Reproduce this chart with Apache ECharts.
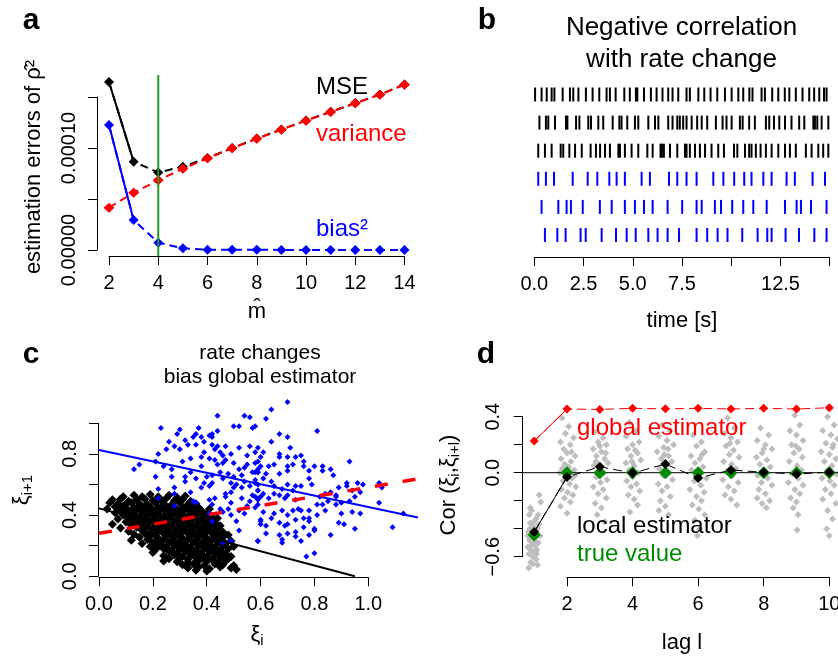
<!DOCTYPE html>
<html><head><meta charset="utf-8">
<script src="https://cdn.jsdelivr.net/npm/echarts@6/dist/echarts.min.js"></script>
<style>html,body{margin:0;padding:0;background:#fff}#c{width:838px;height:657px}</style>
</head><body><div id="c"></div><script>
// ---------- Panel a ----------
const mHat = [2,3,4,5,6,7,8,9,10,11,12,13,14];
const mseVals = [1.647e-4, 8.66e-5, 7.6e-5, 8.17e-5, 9.02e-5, 1.0e-4, 1.093e-4, 1.182e-4, 1.27e-4, 1.355e-4, 1.44e-4, 1.525e-4, 1.623e-4];
const varianceVals = [4.15e-5, 5.62e-5, 6.83e-5, 7.97e-5, 8.99e-5, 9.97e-5, 1.091e-4, 1.18e-4, 1.268e-4, 1.353e-4, 1.438e-4, 1.523e-4, 1.621e-4];
const bias2Vals = [1.225e-4, 2.94e-5, 7.2e-6, 1.7e-6, 3e-7, 2e-7, 2e-7, 1e-7, 1e-7, 1e-7, 1e-7, 1e-7, 1e-7];
const mChosen = 4;
const aPlotYRange = [-5.9e-6, 1.716e-4];
const aXTicks = [2,4,6,8,10,12,14];
const aXLabels = ['2','4','6','8','10','12','14'];
const aYTicks = [0, 0.00005, 0.0001, 0.00015];
const aYLabels = ['0.00000','','0.00010',''];

// ---------- Panel b (spike times, s) ----------
const spikeRow1 = [0.04,0.37,0.63,0.88,1.02,1.44,1.81,1.98,2.24,2.62,2.96,3.30,3.67,3.84,4.13,4.57,4.85,5.16,5.23,5.57,5.92,6.21,6.51,6.80,7.02,7.31,7.73,7.90,8.33,8.63,8.95,9.29,9.68,10.02,10.36,10.61,10.92,11.08,11.54,11.71,12.08,12.39,12.72,12.95,13.28,13.62,13.96,14.21,14.47,14.71,14.84];
const spikeRow2 = [0.26,0.59,0.71,1.05,1.61,1.68,2.12,2.29,2.74,2.88,3.25,3.50,3.98,4.32,4.43,4.72,5.11,5.28,5.79,6.13,6.30,6.80,7.02,7.26,7.39,7.56,7.73,7.99,8.27,8.50,8.78,9.22,9.56,9.76,10.02,10.44,10.58,10.91,11.20,11.76,11.93,12.17,12.44,12.73,13.06,13.45,13.71,14.17,14.25,14.37,14.59,14.93];
const spikeRow3 = [0.20,0.54,0.88,1.34,1.47,1.78,2.07,2.41,2.86,3.13,3.34,3.59,3.84,4.27,4.35,4.60,4.94,5.28,5.74,6.01,6.41,6.48,6.58,6.89,7.26,7.65,7.73,7.90,8.16,8.41,8.67,9.00,9.34,9.63,10.14,10.31,10.70,10.91,11.03,11.25,11.49,11.76,12.05,12.39,12.73,12.98,13.28,13.79,14.08,14.42,14.67,14.93];
const spikeRow4 = [0.20,0.59,1.00,1.95,2.71,3.20,3.81,4.18,4.60,5.45,5.87,6.84,7.26,7.73,8.24,9.09,9.60,10.15,10.66,11.03,11.63,12.05,12.81,13.23,14.13,14.76];
const spikeRow5 = [0.37,1.22,1.64,1.86,2.46,3.33,3.93,4.60,5.11,5.57,6.01,6.77,7.51,8.24,8.50,9.17,9.48,10.05,10.61,11.12,11.80,12.73,13.32,13.54,14.05,14.84];
const spikeRow6 = [0.54,1.17,1.59,2.35,2.61,3.42,4.15,4.69,5.15,5.79,6.26,6.77,7.35,8.24,8.78,9.31,9.81,10.56,11.34,11.83,12.05,12.76,13.44,14.22,14.84];
const bXTicks = [0,2.5,5,7.5,10,12.5,15];
const bXLabels = ['0.0','2.5','5.0','7.5','','12.5',''];

// ---------- Panel c (xi_i, xi_i+1) ----------
const blackPairs = [
[0.09,0.52],[0.13,0.53],[0.16,0.52],[0.19,0.535],[0.22,0.52],[0.26,0.53],[0.29,0.515],[0.32,0.525],
[0.05,0.50],[0.08,0.505],[0.11,0.49],[0.14,0.50],[0.17,0.505],[0.20,0.495],[0.23,0.50],[0.25,0.51],[0.28,0.495],[0.31,0.50],[0.34,0.49],
[0.04,0.48],[0.07,0.475],[0.10,0.47],[0.12,0.48],[0.15,0.475],[0.18,0.47],[0.21,0.48],[0.24,0.475],[0.27,0.47],[0.30,0.48],[0.33,0.47],[0.36,0.475],
[0.06,0.455],[0.09,0.46],[0.13,0.45],[0.16,0.46],[0.19,0.455],[0.22,0.45],[0.25,0.46],[0.28,0.455],[0.31,0.45],[0.34,0.46],[0.37,0.45],
[0.03,0.44],[0.08,0.435],[0.11,0.43],[0.14,0.44],[0.17,0.435],[0.20,0.43],[0.23,0.44],[0.26,0.435],[0.29,0.43],[0.32,0.44],[0.35,0.435],[0.38,0.43],[0.41,0.44],
[0.06,0.415],[0.10,0.42],[0.13,0.41],[0.16,0.42],[0.19,0.415],[0.22,0.41],[0.25,0.42],[0.28,0.415],[0.31,0.41],[0.34,0.42],[0.37,0.415],[0.40,0.41],
[0.09,0.40],[0.12,0.395],[0.15,0.39],[0.18,0.40],[0.21,0.395],[0.24,0.39],[0.27,0.40],[0.30,0.395],[0.33,0.39],[0.36,0.40],[0.39,0.395],[0.42,0.39],
[0.07,0.375],[0.11,0.38],[0.14,0.37],[0.17,0.38],[0.20,0.375],[0.23,0.37],[0.26,0.38],[0.29,0.375],[0.32,0.37],[0.35,0.38],[0.38,0.375],[0.41,0.37],[0.44,0.38],
[0.10,0.355],[0.13,0.36],[0.16,0.35],[0.19,0.36],[0.22,0.355],[0.25,0.35],[0.28,0.36],[0.31,0.355],[0.34,0.35],[0.37,0.36],[0.40,0.355],[0.43,0.35],
[0.05,0.34],[0.12,0.335],[0.15,0.34],[0.18,0.33],[0.21,0.34],[0.24,0.335],[0.27,0.33],[0.30,0.34],[0.33,0.335],[0.36,0.33],[0.39,0.34],[0.42,0.335],[0.45,0.33],
[0.08,0.315],[0.14,0.32],[0.17,0.315],[0.20,0.31],[0.23,0.32],[0.26,0.315],[0.29,0.31],[0.32,0.32],[0.35,0.315],[0.38,0.31],[0.41,0.32],[0.44,0.315],
[0.11,0.295],[0.16,0.30],[0.19,0.29],[0.22,0.30],[0.25,0.295],[0.28,0.29],[0.31,0.30],[0.34,0.295],[0.37,0.29],[0.40,0.30],[0.43,0.295],[0.46,0.29],
[0.13,0.275],[0.17,0.28],[0.21,0.27],[0.24,0.28],[0.27,0.275],[0.30,0.27],[0.33,0.28],[0.36,0.275],[0.39,0.27],[0.42,0.28],[0.45,0.275],[0.48,0.27],
[0.15,0.255],[0.19,0.26],[0.22,0.25],[0.25,0.26],[0.28,0.255],[0.31,0.25],[0.34,0.26],[0.37,0.255],[0.40,0.25],[0.43,0.26],[0.46,0.255],
[0.12,0.235],[0.18,0.24],[0.21,0.23],[0.24,0.24],[0.27,0.235],[0.30,0.23],[0.33,0.24],[0.36,0.235],[0.39,0.23],[0.42,0.24],[0.45,0.235],[0.49,0.23],
[0.16,0.215],[0.20,0.22],[0.23,0.21],[0.26,0.22],[0.29,0.215],[0.32,0.21],[0.35,0.22],[0.38,0.215],[0.41,0.21],[0.44,0.22],[0.47,0.215],
[0.19,0.195],[0.22,0.20],[0.25,0.19],[0.28,0.20],[0.31,0.195],[0.34,0.19],[0.37,0.20],[0.40,0.195],[0.43,0.19],[0.46,0.20],[0.50,0.195],
[0.21,0.175],[0.24,0.18],[0.27,0.17],[0.30,0.18],[0.33,0.175],[0.36,0.17],[0.39,0.18],[0.42,0.175],[0.45,0.17],[0.48,0.18],
[0.20,0.155],[0.26,0.16],[0.29,0.15],[0.32,0.16],[0.35,0.155],[0.38,0.15],[0.41,0.16],[0.44,0.155],[0.47,0.15],
[0.24,0.135],[0.28,0.14],[0.31,0.13],[0.34,0.14],[0.37,0.135],[0.40,0.13],[0.43,0.14],[0.46,0.135],[0.49,0.13],
[0.26,0.115],[0.30,0.12],[0.33,0.11],[0.36,0.12],[0.39,0.115],[0.42,0.11],[0.45,0.12],[0.48,0.115],
[0.24,0.10],[0.29,0.095],[0.33,0.09],[0.37,0.10],[0.40,0.095],[0.44,0.09],[0.47,0.10],
[0.31,0.075],[0.35,0.08],[0.39,0.07],[0.43,0.08],[0.46,0.075],[0.50,0.07],
[0.33,0.055],[0.37,0.06],[0.41,0.05],[0.45,0.06],[0.49,0.055],
[0.36,0.04],[0.40,0.035],[0.51,0.045]
];
const bluePairs = [
[0.44,1.05],[0.54,1.05],[0.56,1.04],[0.23,0.97],[0.30,0.96],[0.29,0.93],[0.37,0.97],[0.36,0.93],[0.38,0.91],[0.41,0.92],[0.42,0.93],[0.42,0.91],[0.44,0.95],[0.50,0.98],[0.52,0.98],[0.57,0.97],
[0.26,0.88],[0.28,0.85],[0.32,0.89],[0.35,0.91],[0.33,0.86],[0.36,0.86],[0.39,0.88],[0.42,0.86],[0.44,0.85],[0.47,0.85],[0.52,0.84],[0.56,0.85],[0.25,0.83],[0.22,0.80],[0.30,0.83],[0.39,0.81],[0.43,0.83],[0.45,0.81],[0.46,0.79],[0.49,0.80],[0.55,0.79],[0.58,0.81],
[0.13,0.70],[0.15,0.73],[0.21,0.75],[0.24,0.72],[0.27,0.70],[0.31,0.75],[0.34,0.77],[0.38,0.78],[0.41,0.77],[0.43,0.76],[0.44,0.73],[0.46,0.74],[0.47,0.76],[0.50,0.74],[0.52,0.70],[0.54,0.71],[0.55,0.73],[0.58,0.74],[0.59,0.68],
[0.21,0.65],[0.27,0.65],[0.32,0.65],[0.34,0.68],[0.38,0.72],[0.40,0.65],[0.42,0.66],[0.45,0.68],[0.48,0.67],[0.50,0.65],[0.53,0.66],[0.57,0.68],[0.59,0.70],
[0.32,0.62],[0.36,0.64],[0.39,0.61],[0.42,0.61],[0.46,0.64],[0.49,0.61],[0.51,0.60],[0.54,0.62],[0.58,0.63],
[0.22,0.57],[0.28,0.58],[0.34,0.55],[0.38,0.58],[0.41,0.59],[0.47,0.54],[0.49,0.55],[0.50,0.58],[0.53,0.58],[0.56,0.59],[0.59,0.60],
[0.22,0.51],[0.28,0.54],[0.35,0.49],[0.41,0.50],[0.43,0.51],[0.47,0.52],[0.49,0.48],[0.53,0.51],[0.57,0.53],[0.59,0.56],
[0.28,0.46],[0.36,0.48],[0.42,0.47],[0.45,0.44],[0.48,0.44],[0.52,0.43],[0.55,0.46],[0.59,0.51],[0.41,0.41],[0.46,0.42],[0.49,0.40],[0.54,0.41],[0.60,0.36],[0.42,0.36],[0.51,0.36],[0.52,0.30],[0.49,0.23],[0.46,0.22],[0.59,0.23],[0.56,0.49],[0.58,0.52],
[0.70,1.14],[0.64,1.09],[0.62,1.03],[0.58,0.98],[0.67,0.93],[0.70,0.91],[0.64,0.88],[0.81,0.95],[0.59,0.84],[0.61,0.81],[0.60,0.78],[0.67,0.80],[0.67,0.78],[0.70,0.78],[0.71,0.84],[0.73,0.78],[0.75,0.79],[0.76,0.75],
[0.59,0.75],[0.60,0.72],[0.63,0.72],[0.65,0.73],[0.70,0.72],[0.72,0.73],[0.76,0.72],[0.80,0.72],[0.83,0.72],[0.86,0.70],[0.93,0.75],
[0.58,0.68],[0.59,0.68],[0.62,0.67],[0.67,0.67],[0.70,0.69],[0.78,0.69],[0.83,0.69],[0.87,0.66],[0.61,0.64],[0.64,0.62],[0.70,0.60],[0.73,0.59],[0.75,0.59],[0.78,0.64],[0.79,0.60],
[0.58,0.61],[0.65,0.59],[0.68,0.57],[0.72,0.56],[0.59,0.56],[0.65,0.54],[0.67,0.53],[0.70,0.53],[0.60,0.52],[0.61,0.54],[0.84,0.54],[0.86,0.55],[0.88,0.53],[0.89,0.58],[0.92,0.61],[0.92,0.59],[0.96,0.61],[0.98,0.60],[0.94,0.56],[0.97,0.55],[1.04,0.61],[1.05,0.58],
[0.82,0.52],[0.85,0.49],[0.88,0.52],[0.90,0.48],[0.93,0.49],[0.95,0.52],[0.59,0.50],[0.59,0.47],[0.63,0.51],[0.69,0.51],[0.73,0.50],
[0.58,0.45],[0.61,0.42],[0.65,0.41],[0.68,0.43],[0.72,0.43],[0.74,0.44],[0.75,0.43],[0.78,0.43],[0.81,0.47],[0.83,0.47],[0.84,0.43],[0.88,0.47],[0.90,0.41],[0.94,0.42],[0.97,0.41],[1.04,0.48],[1.13,0.41],
[0.60,0.37],[0.64,0.38],[0.70,0.40],[0.73,0.37],[0.76,0.38],[0.78,0.38],[0.81,0.40],[0.60,0.34],[0.62,0.33],[0.67,0.35],[0.69,0.33],[0.70,0.34],[0.78,0.36],[0.76,0.32],[0.80,0.31],[0.89,0.35],[0.91,0.34],[0.95,0.31],[1.09,0.32],
[0.62,0.28],[0.67,0.27],[0.70,0.28],[0.73,0.29],[0.73,0.26],[0.78,0.27],[0.80,0.30],[0.86,0.27],[0.59,0.23],[0.68,0.22],[0.68,0.24],[0.75,0.23],[0.77,0.13],[0.80,0.15]
];
const blueFit = [[0, 0.826], [1.184, 0.384]];
const blackFit = [[0, 0.444], [0.95, 0]];
const globalFit = [[0, 0.281], [1.184, 0.637]];
const cXTicks = [0,0.2,0.4,0.6,0.8,1.0];
const cXLabels = ['0.0','0.2','0.4','0.6','0.8','1.0'];
const cYTicks = [0,0.2,0.4,0.6,0.8,1.0];
const cYLabels = ['0.0','','0.4','','0.8',''];

// ---------- Panel d (lag correlations) ----------
const lags = [1,2,3,4,5,6,7,8,9,10];
const globalEst = [0.226, 0.455, 0.452, 0.46, 0.456, 0.46, 0.455, 0.46, 0.455, 0.464];
const localEst = [-0.424, -0.031, 0.043, -0.003, 0.062, -0.038, 0.019, 0.003, -0.01, 0.004];
const trueVal = [-0.445, 0, 0, 0, 0, 0, 0, 0, 0, 0];
const zeroLine = [[0.64, 0], [10.4, 0]];
const greyPairs = [
[0.85,-0.30],[0.92,-0.27],[1.05,-0.33],[1.15,-0.16],[0.88,-0.36],[0.97,-0.38],[1.10,-0.40],[0.82,-0.42],[0.95,-0.44],[1.05,-0.46],[1.18,-0.45],[0.86,-0.48],[0.93,-0.50],[1.02,-0.52],[1.12,-0.50],[0.80,-0.53],[0.90,-0.55],[1.00,-0.57],[1.08,-0.55],[0.84,-0.58],[0.96,-0.60],[1.06,-0.62],[0.89,-0.64],[1.10,-0.66],[0.83,-0.68],[0.99,-0.35],[1.12,-0.30],[0.87,-0.40],[1.04,-0.41],[0.94,-0.47],[1.14,-0.37],[0.81,-0.45],[1.01,-0.49],[0.91,-0.52],[1.07,-0.58],[0.95,-0.65],[1.20,-0.21],[0.88,-0.25],
[1.85,0.39],[2.05,0.33],[1.95,0.28],[2.20,0.25],[1.80,0.22],[2.10,0.20],[1.90,0.17],[2.00,0.14],[2.25,0.12],[1.82,0.10],[2.12,0.08],[1.93,0.06],[2.05,0.04],[2.22,0.02],[1.78,0.00],[1.98,-0.02],[2.15,-0.04],[1.88,-0.06],[2.08,-0.08],[2.27,-0.10],[1.83,-0.12],[2.02,-0.14],[2.18,-0.16],[1.92,-0.18],[2.10,-0.21],[1.80,-0.24],[2.00,-0.29],[2.14,0.15],[1.86,0.03],[2.24,-0.02],
[2.85,0.29],[3.10,0.25],[2.95,0.22],[3.20,0.20],[2.80,0.17],[3.05,0.15],[2.90,0.12],[3.15,0.10],[3.25,0.07],[2.82,0.05],[3.00,0.03],[3.12,0.00],[2.90,-0.03],[3.22,-0.05],[3.02,-0.07],[2.80,-0.10],[3.10,-0.12],[2.95,-0.15],[3.20,-0.18],[2.86,-0.22],[3.05,-0.25],[2.92,-0.30],[3.15,-0.35],[3.00,0.19],[3.18,0.14],[2.88,0.08],
[3.90,0.36],[4.10,0.30],[3.80,0.26],[4.20,0.22],[4.00,0.20],[3.85,0.17],[4.15,0.14],[3.95,0.12],[4.25,0.09],[3.80,0.07],[4.05,0.05],[3.90,0.02],[4.18,0.00],[4.00,-0.03],[3.82,-0.06],[4.12,-0.08],[3.95,-0.10],[4.22,-0.13],[3.87,-0.16],[4.05,-0.19],[4.15,-0.23],[3.92,-0.28],[4.08,0.16],[3.98,0.08],
[4.90,0.34],[5.15,0.30],[4.80,0.26],[5.05,0.23],[5.25,0.20],[4.95,0.18],[4.75,0.15],[5.10,0.12],[4.88,0.10],[5.20,0.08],[5.00,0.05],[4.82,0.03],[5.12,0.00],[4.93,-0.02],[5.22,-0.05],[4.78,-0.08],[5.05,-0.10],[4.90,-0.13],[5.15,-0.17],[4.85,-0.20],[5.00,-0.24],[4.80,-0.27],[5.10,-0.30],[5.08,0.17],[4.97,0.13],
[5.85,0.27],[6.10,0.22],[5.95,0.19],[6.20,0.15],[5.78,0.12],[6.05,0.10],[5.90,0.07],[6.15,0.04],[5.80,0.02],[6.00,-0.01],[6.25,-0.04],[5.88,-0.06],[6.08,-0.09],[5.75,-0.12],[6.18,-0.14],[5.95,-0.17],[6.10,-0.20],[5.82,-0.23],[6.02,-0.26],[6.20,-0.30],[5.90,-0.34],[6.05,-0.40],[5.98,-0.45],[6.12,0.13],
[6.90,0.39],[7.10,0.32],[6.80,0.28],[7.00,0.25],[7.20,0.22],[6.85,0.19],[7.08,0.16],[6.95,0.13],[7.25,0.11],[6.78,0.08],[7.02,0.06],[7.15,0.03],[6.88,0.01],[7.05,-0.02],[6.75,-0.05],[7.22,-0.07],[6.92,-0.10],[7.10,-0.13],[6.82,-0.16],[7.00,-0.19],[7.18,-0.23],[6.97,0.21],
[7.90,0.32],[8.15,0.27],[7.80,0.23],[8.05,0.20],[8.25,0.17],[7.95,0.14],[7.78,0.11],[8.10,0.09],[7.88,0.06],[8.20,0.04],[8.00,0.01],[7.82,-0.02],[8.12,-0.04],[7.93,-0.07],[8.25,-0.09],[7.85,-0.12],[8.05,-0.15],[7.80,-0.18],[8.18,-0.20],[7.95,-0.22],[8.08,-0.25],[8.00,0.17],
[8.95,0.41],[9.10,0.34],[8.80,0.30],[9.00,0.27],[9.20,0.23],[8.85,0.20],[9.08,0.17],[8.92,0.14],[9.18,0.11],[8.78,0.08],[9.02,0.05],[9.15,0.02],[8.88,-0.01],[9.05,-0.04],[8.75,-0.07],[9.20,-0.09],[8.95,-0.12],[9.10,-0.15],[8.82,-0.18],[9.00,-0.21],[8.90,-0.25],[9.05,-0.30],[9.02,-0.41],[8.98,0.19],
[9.95,0.40],[10.15,0.34],[9.80,0.30],[10.05,0.27],[10.25,0.24],[9.90,0.21],[10.10,0.18],[9.75,0.15],[10.00,0.13],[10.20,0.10],[9.85,0.08],[10.08,0.05],[9.95,0.02],[10.22,-0.01],[9.78,-0.04],[10.02,-0.06],[10.15,-0.09],[9.88,-0.12],[10.05,-0.15],[9.80,-0.19],[10.20,-0.22],[9.95,-0.27],[10.10,-0.33],[9.92,-0.40],[10.00,-0.45],[10.12,0.20]
];
const dXTicks = [2,4,6,8,10];
const dXLabels = ['2','4','6','8','10'];
const dYTicks = [-0.6,-0.4,-0.2,0,0.2,0.4];
const dYLabels = ['\u22120.6','','','0.0','','0.4'];

// ---------- build ----------
const FONT = '"Liberation Sans", Arial, Helvetica, sans-serif';
const RED = '#ff0000', BLUE = '#0000ff', GREEN = '#008b00', GREY = '#bebebe';
const lab = (ticks, labels) => v => { for (let i = 0; i < ticks.length; i++) if (Math.abs(ticks[i] - v) < 1e-9) return labels[i]; return ''; };
const pairs = (xs, ys) => xs.map((x, i) => [x, ys[i]]);

function valAxis(kind, grid, min, max, interval, offset, ticks, labels, margin) {
  return {
    type: 'value', gridIndex: grid, min, max, interval, offset,
    position: kind === 'x' ? 'bottom' : 'left',
    axisLine: { show: true, onZero: false, lineStyle: { color: '#000', width: 1 } },
    axisTick: { show: true, inside: false, length: 9, lineStyle: { color: '#000', width: 1 } },
    axisLabel: { show: true, margin, color: '#000', fontSize: 20, fontFamily: FONT,
      showMinLabel: true, showMaxLabel: true, hideOverlap: false,
      rotate: kind === 'y' ? 90 : 0, formatter: lab(ticks, labels) },
    splitLine: { show: false }
  };
}
function hiddenAxis(grid, min, max, inverse) {
  return { type: 'value', gridIndex: grid, min, max, inverse: !!inverse, show: false,
    axisLine: { show: false }, axisTick: { show: false }, axisLabel: { show: false }, splitLine: { show: false } };
}
const base = { clip: false, animation: false, silent: true, emphasis: { disabled: true } };
function line(ax, data, color, width, type, extra) {
  return Object.assign({ type: 'line', xAxisIndex: ax, yAxisIndex: ax, data, symbol: 'none',
    lineStyle: { color, width, type }, z: 3 }, base, extra || {});
}
function scat(ax, data, color, size, extra) {
  return Object.assign({ type: 'scatter', xAxisIndex: ax, yAxisIndex: ax, data, symbol: 'diamond',
    symbolSize: size, itemStyle: { color, opacity: 1, borderWidth: 0 } }, base, extra || {});
}

const aMSE = pairs(mHat, mseVals), aVar = pairs(mHat, varianceVals), aBias = pairs(mHat, bias2Vals);
const dGlobal = pairs(lags, globalEst), dLocal = pairs(lags, localEst), dTrue = pairs(lags, trueVal);
const spikeRows = [spikeRow1, spikeRow2, spikeRow3, spikeRow4, spikeRow5, spikeRow6];
const spikeColors = ['#000', '#000', '#000', BLUE, BLUE, BLUE];

// data coordinate systems (hidden axes, wider than the drawn axes)
const A = 4, B = 1, C = 5, D = 6;
const series = [
  // panel a
  line(A, aMSE.slice(0, 2), '#000', 2, 'solid'),
  line(A, aMSE, '#000', 2, [8, 5], { symbol: 'diamond', symbolSize: 10, itemStyle: { color: '#000' } }),
  line(A, aVar, RED, 2, [8, 5], { symbol: 'diamond', symbolSize: [11, 10], itemStyle: { color: RED } }),
  line(A, aBias.slice(0, 2), BLUE, 2, 'solid'),
  line(A, aBias, BLUE, 2, [8, 5], { symbol: 'diamond', symbolSize: 10, itemStyle: { color: BLUE } }),
  line(A, [[mChosen, aPlotYRange[0]], [mChosen, aPlotYRange[1]]], '#229922', 2, 'solid', { z: 5 }),
  // panel b
  ...spikeRows.map((r, i) => scat(B, r.map(t => [t, i + 1]), spikeColors[i], [2, 14], { symbol: 'rect' })),
  // panel c
  scat(C, blackPairs, '#000', 9),
  scat(C, bluePairs, BLUE, 6),
  line(C, blueFit, BLUE, 2, 'solid'),
  line(C, blackFit, '#000', 2, 'solid'),
  line(C, globalFit, RED, 3.5, [13, 15]),
  // panel d
  scat(D, greyPairs, GREY, 7),
  line(D, zeroLine, '#000', 1, 'solid'),
  scat(D, dTrue, GREEN, 13, { z: 4 }),
  line(D, dLocal.slice(0, 2), '#000', 1, 'solid', { z: 4 }),
  line(D, dLocal, '#000', 1, [9, 5], { z: 4, symbol: 'diamond', symbolSize: 10, itemStyle: { color: '#000' } }),
  line(D, dGlobal.slice(0, 2), RED, 1, 'solid', { z: 4 }),
  line(D, dGlobal, RED, 1, [9, 5], { z: 4, symbol: 'diamond', symbolSize: 9, itemStyle: { color: RED } })
];

function txt(text, x, y, size, o) {
  o = o || {};
  const st = { text, fill: o.color || '#000', font: (o.bold ? 'bold ' : '') + size + 'px ' + FONT,
    textAlign: o.align || 'center', textVerticalAlign: 'middle', align: o.align || 'center', verticalAlign: 'middle' };
  if (o.rich) st.rich = o.rich;
  return { type: 'text', x, y, rotation: o.rot || 0, z: 100, silent: true, style: st };
}
const richSub = {
  m: { fontSize: 22, fontFamily: FONT, lineHeight: 26, fill: '#000', color: '#000' },
  s: { fontSize: 15, fontFamily: FONT, lineHeight: 12, verticalAlign: 'bottom', fill: '#000', color: '#000' }
};
const R90 = Math.PI / 2;
const graphics = [
  txt('a', 31, 21, 30, { bold: true }),
  txt('b', 487, 21, 30, { bold: true }),
  txt('c', 31, 355, 30, { bold: true }),
  txt('d', 486, 355, 30, { bold: true }),
  txt('MSE', 316, 87, 24, { align: 'left' }),
  txt('variance', 316, 134, 24, { align: 'left', color: RED }),
  txt('bias\u00b2', 316, 229, 24, { align: 'left', color: BLUE }),
  txt('m\u0302', 257, 312, 22),
  txt('estimation errors of \u03c1\u0302\u00b2', 34, 167, 22, { rot: R90 }),
  txt('Negative correlation', 681.5, 28, 26),
  txt('with rate change', 681.5, 60, 26),
  txt('time [s]', 682, 321, 22),
  txt('rate changes', 260, 353, 21),
  txt('bias global estimator', 260, 377, 21),
  txt('{m|\u03be}{s|i}', 257, 635, 22, { rich: richSub }),
  txt('{m|\u03be}{s|i+1}', 22, 490, 22, { rot: R90, rich: richSub }),
  txt('global estimator', 577, 428, 24, { align: 'left', color: RED }),
  txt('local estimator', 577, 526, 24, { align: 'left' }),
  txt('true value', 577, 554, 24, { align: 'left', color: GREEN }),
  txt('lag l', 682, 643, 22),
  txt('{m|Cor (\u03be}{s|i}{m|,\u03be}{s|i+l}{m|)}', 449, 485, 22, { rot: R90, rich: richSub })
];

const g = (left, top, width, height) => ({ left, top, width, height, outerBoundsMode: 'none', containLabel: false });
const option = {
  animation: false,
  backgroundColor: '#ffffff',
  textStyle: { fontFamily: FONT },
  grid: [
    g(109, 97, 295.5, 153),          // 0: panel a drawn axes (tick range)
    g(534.3, 94.5, 295.4, 140.5),    // 1: panel b
    g(99, 423.3, 269.3, 153),        // 2: panel c drawn axes
    g(567, 416.7, 262.3, 140),       // 3: panel d drawn axes
    g(96.69, 66.4, 320.1, 193.8),    // 4: panel a data  x[1.5,14.5] y[-1e-5,1.8e-4]
    g(99, 392.7, 323.2, 183.6),      // 5: panel c data  x[0,1.2] y[0,1.2]
    g(521.1, 388.7, 321.3, 196)      // 6: panel d data  x[0.6,10.4] y[-0.8,0.6]
  ],
  xAxis: [
    valAxis('x', 0, 2, 14, 2, 6, aXTicks, aXLabels, 17),
    valAxis('x', 1, 0, 15, 2.5, 22, bXTicks, bXLabels, 17),
    valAxis('x', 2, 0, 1, 0.2, 1, cXTicks, cXLabels, 17),
    valAxis('x', 3, 2, 10, 2, 20.6, dXTicks, dXLabels, 17),
    hiddenAxis(4, 1.5, 14.5),
    hiddenAxis(5, 0, 1.2),
    hiddenAxis(6, 0.6, 10.4)
  ],
  yAxis: [
    valAxis('y', 0, 0, 0.00015, 0.00005, 12, aYTicks, aYLabels, 18),
    hiddenAxis(1, 1, 6, true),
    valAxis('y', 2, 0, 1, 0.2, 1, cYTicks, cYLabels, 18),
    valAxis('y', 3, -0.6, 0.4, 0.2, 44.3, dYTicks, dYLabels, 19),
    hiddenAxis(4, -0.00001, 0.00018),
    hiddenAxis(5, 0, 1.2),
    hiddenAxis(6, -0.8, 0.6)
  ],
  series,
  graphic: graphics
};
const chart = echarts.init(document.getElementById('c'), null, { renderer: 'canvas', width: 838, height: 657 });
chart.setOption(option);
</script></body></html>
